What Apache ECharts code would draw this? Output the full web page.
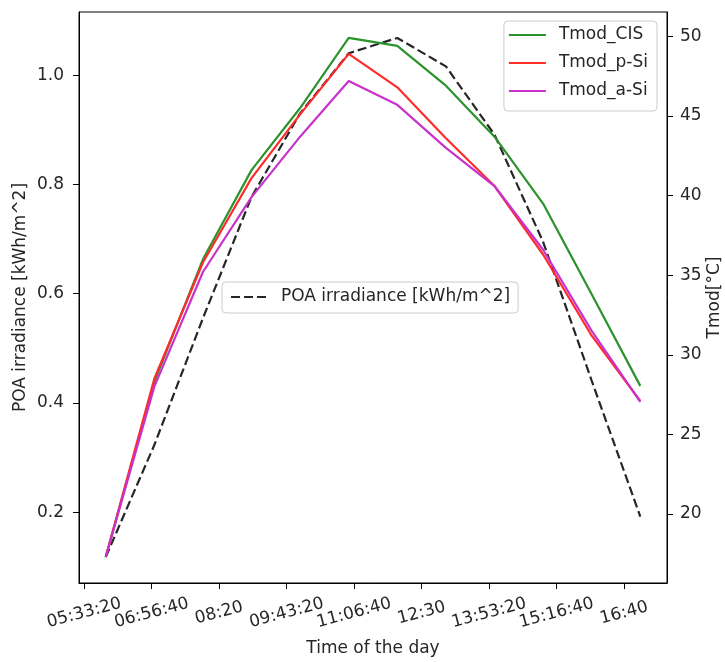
<!DOCTYPE html>
<html>
<head>
<meta charset="utf-8">
<script src="https://cdn.jsdelivr.net/npm/echarts@6/dist/echarts.min.js"></script>
<style>
  html, body { margin: 0; padding: 0; background: #fff; }
  #chart { width: 725px; height: 662px; }
</style>
</head>
<body>
<div id="chart"></div>
<script>
  // hourly samples
  var times = ['06:00', '07:00', '08:00', '09:00', '10:00', '11:00', '12:00', '13:00', '14:00', '15:00', '16:00', '17:00'];
  var poa = [0.118, 0.323, 0.555, 0.777, 0.930, 1.040, 1.068, 1.016, 0.891, 0.695, 0.441, 0.192];
  var tmodCIS = [17.3, 28.3, 36.0, 41.6, 45.5, 49.9, 49.4, 46.9, 43.7, 39.5, 33.8, 28.05];
  var tmodPSi = [17.3, 28.5, 35.8, 41.1, 45.1, 48.9, 46.8, 43.6, 40.6, 36.3, 31.2, 27.1];
  var tmodASi = [17.3, 28.0, 35.2, 39.9, 43.7, 47.2, 45.7, 43.0, 40.6, 36.6, 31.5, 27.05];

  // axis ticks
  var xTickSeconds = [20000, 25000, 30000, 35000, 40000, 45000, 50000, 55000, 60000];
  var xTickLabels = ['05:33:20', '06:56:40', '08:20', '09:43:20', '11:06:40', '12:30', '13:53:20', '15:16:40', '16:40'];
  var leftTicks = [0.2, 0.4, 0.6, 0.8, 1.0];
  var rightTicks = [20, 25, 30, 35, 40, 45, 50];

  function toSec(t) {
    var p = t.split(':');
    return (+p[0]) * 3600 + (+p[1]) * 60;
  }
  function pairs(vals) {
    return vals.map(function (v, i) { return [toSec(times[i]), v]; });
  }
  // matplotlib-like 5% autoscale margins
  function padMin(v) { return v.min - 0.05 * (v.max - v.min); }
  function padMax(v) { return v.max + 0.05 * (v.max - v.min); }

  var font = 'DejaVu Sans';
  var txt = '#262626';
  var fs = 17;

  var legendBox = {
    itemWidth: 37, itemHeight: 14,
    backgroundColor: 'rgba(255,255,255,0.8)',
    borderColor: '#cccccc', borderWidth: 1, borderRadius: 4,
    itemStyle: { opacity: 0 },
    textStyle: { fontFamily: font, fontSize: fs, color: txt, lineHeight: 20, padding: [0, 0, 0, 8] }
  };

  var chart = echarts.init(document.getElementById('chart'));
  chart.setOption({
    animation: false,
    textStyle: { fontFamily: font },
    grid: {
      left: 79, right: 58, top: 12, bottom: 79,
      outerBoundsMode: 'none',
      containLabel: false,
      show: true, borderColor: '#000', borderWidth: 1, backgroundColor: 'transparent'
    },
    legend: [
      Object.assign({
        data: ['Tmod_CIS', 'Tmod_p-Si', 'Tmod_a-Si'],
        orient: 'vertical',
        right: 68, top: 21,
        padding: [4, 9, 10, 4],
        itemGap: 8
      }, legendBox),
      Object.assign({
        data: ['POA irradiance [kWh/m^2]'],
        left: 222, top: 282,
        padding: [5, 8, 6, 8]
      }, legendBox)
    ],
    xAxis: {
      type: 'value',
      min: padMin, max: padMax,
      name: 'Time of the day',
      nameLocation: 'middle',
      nameGap: 57,
      nameMoveOverlap: false,
      nameTextStyle: { fontFamily: font, fontSize: fs, color: txt },
      axisLine: { show: true, lineStyle: { color: '#000', width: 1 } },
      axisTick: { show: true, length: 6, lineStyle: { color: '#000', width: 1 }, customValues: xTickSeconds },
      axisLabel: {
        customValues: xTickSeconds,
        rotate: 15,
        align: 'center',
        verticalAlign: 'middle',
        margin: 30,
        fontFamily: font, fontSize: fs, color: txt,
        formatter: function (v) { return xTickLabels[xTickSeconds.indexOf(v)]; }
      },
      splitLine: { show: false }
    },
    yAxis: [
      {
        type: 'value',
        position: 'left',
        min: padMin, max: padMax,
        name: 'POA irradiance [kWh/m^2]',
        nameLocation: 'middle',
        nameGap: 50,
        nameMoveOverlap: false,
        nameTextStyle: { fontFamily: font, fontSize: fs, color: txt },
        axisLine: { show: true, lineStyle: { color: '#000', width: 1 } },
        axisTick: { show: true, length: 6, lineStyle: { color: '#000', width: 1 }, customValues: leftTicks },
        axisLabel: {
          customValues: leftTicks, margin: 15,
          fontFamily: font, fontSize: fs, color: txt,
          formatter: function (v) { return v.toFixed(1); }
        },
        splitLine: { show: false }
      },
      {
        type: 'value',
        position: 'right',
        min: padMin, max: padMax,
        name: 'Tmod[°C]',
        nameLocation: 'middle',
        nameGap: 39,
        nameMoveOverlap: false,
        nameTextStyle: { fontFamily: font, fontSize: fs, color: txt },
        axisLine: { show: true, lineStyle: { color: '#000', width: 1 } },
        axisTick: { show: true, length: 6, lineStyle: { color: '#000', width: 1 }, customValues: rightTicks },
        axisLabel: {
          customValues: rightTicks, margin: 13,
          fontFamily: font, fontSize: fs, color: txt
        },
        splitLine: { show: false }
      }
    ],
    series: [
      {
        name: 'POA irradiance [kWh/m^2]', type: 'line', yAxisIndex: 0,
        data: pairs(poa), symbol: 'none',
        lineStyle: { color: '#262626', width: 2.2, type: [9, 4] },
        itemStyle: { color: '#262626' }
      },
      {
        name: 'Tmod_CIS', type: 'line', yAxisIndex: 1,
        data: pairs(tmodCIS), symbol: 'none',
        lineStyle: { color: '#2b932b', width: 2.2 },
        itemStyle: { color: '#2b932b' }
      },
      {
        name: 'Tmod_p-Si', type: 'line', yAxisIndex: 1,
        data: pairs(tmodPSi), symbol: 'none',
        lineStyle: { color: '#ff2b2b', width: 2.2 },
        itemStyle: { color: '#ff2b2b' }
      },
      {
        name: 'Tmod_a-Si', type: 'line', yAxisIndex: 1,
        data: pairs(tmodASi), symbol: 'none',
        lineStyle: { color: '#c832cc', width: 2.2 },
        itemStyle: { color: '#c832cc' }
      }
    ]
  });
</script>
</body>
</html>
